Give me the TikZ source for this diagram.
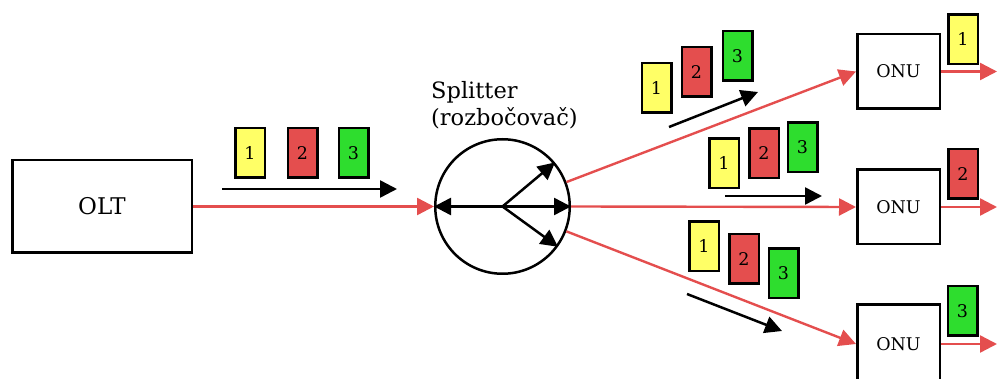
\documentclass[tikz,border=0pt]{standalone}
\usepackage{fontspec}
\setmainfont{DejaVu Serif}
\usetikzlibrary{arrows.meta}
\definecolor{pred}{RGB}{228,78,78}
\definecolor{pyel}{RGB}{255,255,102}
\definecolor{pgrn}{RGB}{46,221,46}
\definecolor{lred}{RGB}{228,78,78}
\tikzset{
  packet/.style={draw=black, line width=2.5pt, minimum width=29.5pt, minimum height=49.5pt, inner sep=0pt, font=\fontsize{17.5}{20}\selectfont},
  pk1/.style={packet, fill=pyel},
  pk2/.style={packet, fill=pred},
  pk3/.style={packet, fill=pgrn},
  box/.style={draw=black, line width=2.5pt, inner sep=0pt},
  olt/.style={box, minimum width=179.5pt, minimum height=92.5pt, font=\fontsize{23}{27}\selectfont},
  onu/.style={box, minimum width=82.5pt, minimum height=74.5pt, font=\fontsize{17.5}{21}\selectfont},
  fiber/.style={draw=lred, line width=2.4pt, -{Triangle[length=17pt, width=17pt]}},
  flow/.style={draw=black, line width=2.5pt, -{Triangle[length=17pt, width=17pt]}},
}
\begin{document}
\begin{tikzpicture}[x=1pt, y=-1pt]
\clip (0,0) rectangle (997,379);
% main nodes
\node[olt] (olt) at (102,206.5) {OLT};
\node[draw=black, line width=2.5pt, circle, minimum size=134.5pt, inner sep=0pt] (split) at (502.5,206.5) {};
\coordinate (sc) at (502.5,206.5);
\node[anchor=north west, inner sep=0pt, align=left, font=\fontsize{22.5}{27.5}\selectfont] (splab) at (431,81) {Splitter\\(rozbočovač)};
\node[onu] (onu1) at (898.5,71.5) {ONU};
\node[onu] (onu2) at (898.5,207) {ONU};
\node[onu, minimum height=79pt] (onu3) at (898.5,344) {ONU};
\coordinate (out1) at (997,71.5);
\coordinate (out2) at (997,207);
\coordinate (out3) at (997,344);
% fibers
\draw[fiber] (olt.east) -- (split.west);
\draw[fiber] (split) -- (onu1.west);
\draw[fiber] (split.east) -- (onu2.west);
\draw[fiber] (split) -- (onu3.west);
\draw[fiber] (onu1.east) -- (out1);
\draw[fiber] (onu2.east) -- (out2);
\draw[fiber] (onu3.east) -- (out3);
% splitter internals
\draw[flow] (sc) -- (split.west);
\draw[flow] (sc) -- (split.east);
\draw[flow] (sc) -- (split.40);
\draw[flow] (sc) -- (split.-36);
% group A
\node[pk1] (a1) at (250,153) {1};
\node[pk2] (a2) at (302.5,153) {2};
\node[pk3] (a3) at (353.5,153) {3};
\coordinate (as) at (222,189);
\coordinate (ae) at (397,189);
\draw[flow] (as) -- (ae);
% group B
\node[pk1] (b1) at (656.5,88) {1};
\node[pk2] (b2) at (696.5,72) {2};
\node[pk3] (b3) at (737.5,56) {3};
\coordinate (bs) at (669,127);
\coordinate (be) at (758,92);
\draw[flow] (bs) -- (be);
% group C
\node[pk1] (c1) at (724,163.5) {1};
\node[pk2] (c2) at (764,153.5) {2};
\node[pk3] (c3) at (802.5,147.5) {3};
\coordinate (cs) at (725,196);
\coordinate (ce) at (822,196);
\draw[flow] (cs) -- (ce);
% group D
\node[pk1] (d1) at (704,246.5) {1};
\node[pk2] (d2) at (744,259) {2};
\node[pk3] (d3) at (783.5,273.5) {3};
\coordinate (ds) at (687,294);
\coordinate (de) at (782,331);
\draw[flow] (ds) -- (de);
% packets at ONUs
\node[pk1] (o1) at (963,39.5) {1};
\node[pk2] (o2) at (963,174) {2};
\node[pk3] (o3) at (962.5,311) {3};
\end{tikzpicture}
\end{document}
